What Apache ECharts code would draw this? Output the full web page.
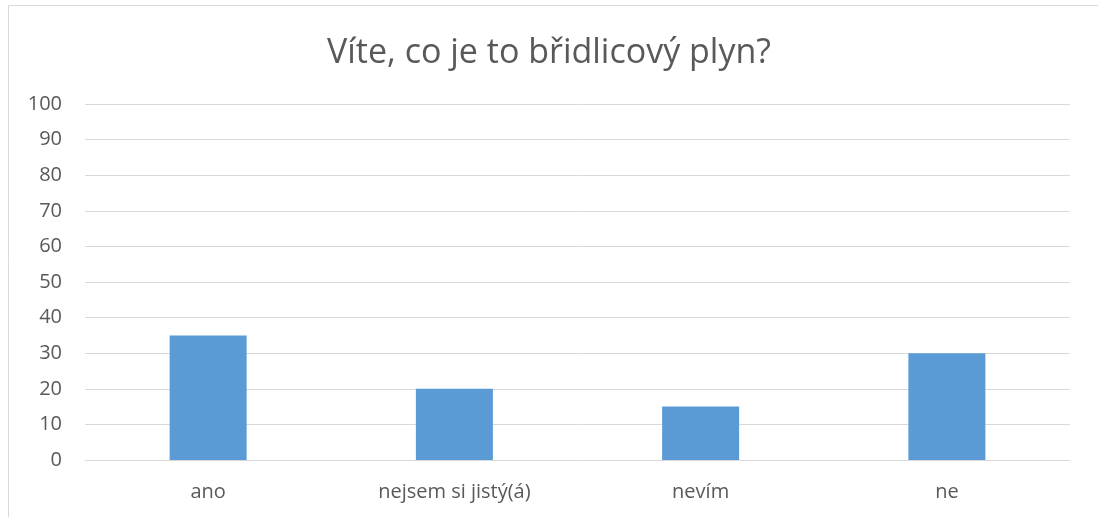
<!DOCTYPE html>
<html>
<head>
    <meta charset="UTF-8">
    <title>chart</title>
    <script src="https://cdn.jsdelivr.net/npm/echarts@6/dist/echarts.min.js"></script>
    <style>
        *{margin:0;padding:0}
        html, body{ width:100%; height:100%; background:#fff; }
        #main{ width:1098px; height:517px; }
    </style>
</head>
<body>
    <div id="main"></div>
    <script type="text/javascript">
        var titleText = 'Víte, co je to břidlicový plyn?';
        var categories = ['ano', 'nejsem si jistý(á)', 'nevím', 'ne'];
        var values = [35, 20, 15, 30];

        var myChart = echarts.init(document.getElementById('main'));
        var font = '"Open Sans", "Liberation Sans", sans-serif';
        var option = {
            animation: false,
            title: {
                text: titleText,
                left: 'center',
                top: 31,
                textStyle: { fontFamily: font, fontSize: 34, fontWeight: 'normal', color: '#595959' }
            },
            // chart frame (only top and left edges are visible in the picture)
            graphic: [{
                type: 'rect',
                shape: { x: 8.5, y: 5.5, width: 1200, height: 600 },
                style: { fill: 'none', stroke: '#d9d9d9', lineWidth: 1 },
                silent: true
            }],
            grid: { left: 85, right: 28, top: 104, bottom: 57 },
            xAxis: {
                type: 'category',
                data: categories,
                axisLine: { lineStyle: { color: '#d9d9d9', width: 1 } },
                axisTick: { show: false },
                axisLabel: { fontFamily: font, fontSize: 20, color: '#595959', margin: 22 }
            },
            yAxis: {
                type: 'value',
                min: 0,
                max: 100,
                interval: 10,
                axisLine: { show: false },
                axisTick: { show: false },
                splitLine: { lineStyle: { color: '#d9d9d9', width: 1 } },
                axisLabel: { fontFamily: font, fontSize: 20, color: '#595959', margin: 23 }
            },
            series: [{
                type: 'bar',
                data: values,
                barWidth: 77,
                itemStyle: { color: '#5b9bd5' }
            }]
        };
        myChart.setOption(option);
    </script>
</body>
</html>
